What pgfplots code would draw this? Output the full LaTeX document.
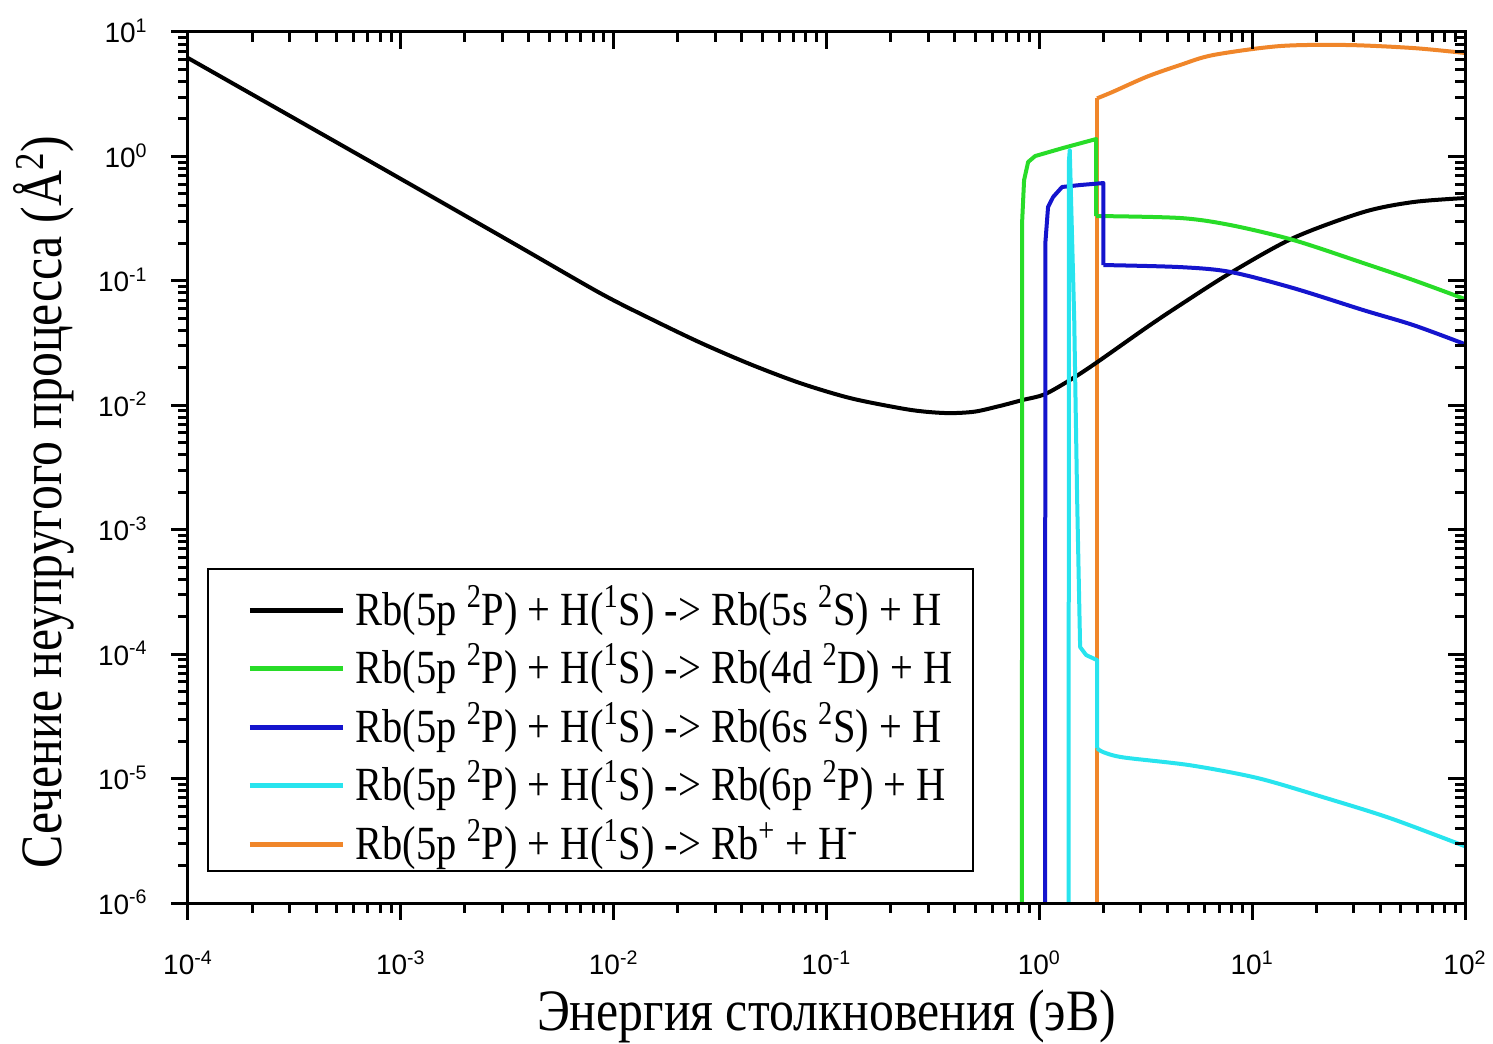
\documentclass[border=0pt]{standalone}
\usepackage{fontspec}
\setmainfont{Liberation Serif}[FakeStretch=0.85]
\newfontfamily\ticksf{Liberation Sans}
\usepackage{pgfplots}
\pgfplotsset{compat=1.18}
\definecolor{cgreen}{RGB}{40,220,40}
\definecolor{cblue}{RGB}{20,20,205}
\definecolor{ccyan}{RGB}{40,228,238}
\definecolor{corange}{RGB}{240,134,42}

\pgfplotstableread{
x y
1e-4 6.18
7.98e-4 0.822
3.37e-3 0.201
8.63e-3 0.0798
0.01483 0.0498
0.0255 0.0319
0.0438 0.0214
0.0752 0.01508
0.129 0.01143
0.222 0.00948
0.290 0.00889
0.381 0.00865
0.499 0.00890
0.655 0.00989
0.830 0.0110
1.064 0.0123
1.442 0.01655
1.870 0.0222
3.21 0.0425
4.59 0.0640
7.89 0.1156
15.6 0.221
33.3 0.357
57.2 0.430
100 0.463
}\tblack

\pgfplotstableread{
x y
0.828 1e-6
0.831 0.308
0.848 0.645
0.886 0.902
0.956 1.007
1.295 1.17
1.85 1.38
1.85 0.332
}\tgreenA
\pgfplotstableread{
x y
1.85 0.332
4.59 0.320
7.89 0.281
15.6 0.213
33.3 0.139
57.2 0.1014
100 0.0714
}\tgreenB

\pgfplotstableread{
x y
1.065 1e-6
1.067 0.2
1.099 0.392
1.161 0.472
1.279 0.568
1.555 0.589
2.0 0.611
2.0 0.134
}\tblueA
\pgfplotstableread{
x y
2.0 0.134
4.59 0.129
7.89 0.118
15.6 0.0875
33.3 0.0582
57.2 0.0441
100 0.0310
}\tblueB

\pgfplotstableread{
x y
1.374 1e-6
1.376 0.9
1.39 1.126
1.459 0.0484
1.506 1.73e-3
1.539 2.72e-4
1.555 1.14e-4
1.661 9.82e-5
1.87 8.95e-5
1.87 1.75e-5
}\tcyanA
\pgfplotstableread{
x y
1.87 1.75e-5
2.0 1.63e-5
2.48 1.48e-5
5.11 1.28e-5
10.6 1.01e-5
21.6 7.08e-6
44.6 4.8e-6
100 2.86e-6
}\tcyanB

\pgfplotstableread{
x y
1.868 1e-6
1.868 2.93
}\torangeA
\pgfplotstableread{
x y
1.868 2.93
2.22 3.31
3.20 4.37
4.59 5.43
6.56 6.53
13.5 7.71
27.9 7.86
57.2 7.43
100 6.78
}\torangeB

\begin{document}
\begin{tikzpicture}
\path (-94bp,-70.5bp) rectangle (652.5bp,451.5bp);
\begin{axis}[
  scale only axis, width=638.5bp, height=435.5bp,
  xmode=log, ymode=log,
  xmin=1e-4, xmax=1e2, ymin=1e-6, ymax=1e1,
  axis line style={line width=1.5bp},
  every tick/.style={black, line width=1.5bp},
  major tick length=8.5bp, minor tick length=5bp,
  xtick={1e-4,1e-3,1e-2,1e-1,1,10,100},
  ytick={1e-6,1e-5,1e-4,1e-3,1e-2,1e-1,1,10},
  tick align=outside, xtick pos=left, ytick pos=left,
  xticklabels={10\textsuperscript{-4},10\textsuperscript{-3},10\textsuperscript{-2},10\textsuperscript{-1},10\textsuperscript{0},10\textsuperscript{1},10\textsuperscript{2}},
  yticklabels={10\textsuperscript{-6},10\textsuperscript{-5},10\textsuperscript{-4},10\textsuperscript{-3},10\textsuperscript{-2},10\textsuperscript{-1},10\textsuperscript{0},10\textsuperscript{1}},
  tick label style={font=\ticksf\fontsize{14bp}{17bp}\selectfont, inner sep=0pt},
  xticklabel style={anchor=base, yshift=-27.5bp},
  yticklabel style={anchor=base east, xshift=-11.5bp, yshift=-5.5bp},
  xlabel={Энергия столкновения (эВ)},
  ylabel={Сечение неупругого процесса (\AA\textsuperscript{2})},
  label style={font=\fontsize{29.3bp}{34bp}\selectfont, inner sep=0pt},
  xlabel style={at={(axis description cs:0.5,-0.1458)}, anchor=base},
  ylabel style={at={(axis description cs:-0.0987,0.4604)}, anchor=base},
  legend cell align=left,
  legend style={at={(axis description cs:0.01488,0.0356)}, anchor=south west,
    draw=black, line width=1bp, inner xsep=10bp, inner ysep=6bp,
    font=\fontsize{23.8bp}{28bp}\selectfont,
    nodes={inner sep=0pt, text height=22bp, text depth=0bp},
    row sep=7.25bp, column sep=5bp},
  legend image code/.code={\path (0bp,-3.5bp); \draw[line width=2.5bp,#1] (10bp,-3.5bp) -- (56.5bp,-3.5bp);},
  every axis plot/.append style={line width=2bp, line join=round, forget plot},
]
\addplot[corange] table {\torangeA};
\addplot[corange, smooth, tension=0.5] table {\torangeB};
\addplot[black, smooth, tension=0.5] table {\tblack};
\addplot[cgreen] table {\tgreenA};
\addplot[cgreen, smooth, tension=0.5] table {\tgreenB};
\addplot[cblue] table {\tblueA};
\addplot[cblue, smooth, tension=0.5] table {\tblueB};
\addplot[ccyan] table {\tcyanA};
\addplot[ccyan, smooth, tension=0.5] table {\tcyanB};
\addlegendimage{black}
\addlegendentry{Rb(5p \textsuperscript{2}P) + H(\textsuperscript{1}S) -> Rb(5s \textsuperscript{2}S) + H}
\addlegendimage{cgreen}
\addlegendentry{Rb(5p \textsuperscript{2}P) + H(\textsuperscript{1}S) -> Rb(4d \textsuperscript{2}D) + H}
\addlegendimage{cblue}
\addlegendentry{Rb(5p \textsuperscript{2}P) + H(\textsuperscript{1}S) -> Rb(6s \textsuperscript{2}S) + H}
\addlegendimage{ccyan}
\addlegendentry{Rb(5p \textsuperscript{2}P) + H(\textsuperscript{1}S) -> Rb(6p \textsuperscript{2}P) + H}
\addlegendimage{corange}
\addlegendentry{Rb(5p \textsuperscript{2}P) + H(\textsuperscript{1}S) -> Rb\textsuperscript{+} + H\textsuperscript{-}}
\end{axis}
\begin{axis}[
  scale only axis, width=638.5bp, height=435.5bp,
  xmode=log, ymode=log,
  xmin=1e-4, xmax=1e2, ymin=1e-6, ymax=1e1,
  axis line style={line width=1.5bp},
  every tick/.style={black, line width=1.5bp},
  major tick length=8.5bp, minor tick length=5bp,
  xtick={1e-4,1e-3,1e-2,1e-1,1,10,100},
  ytick={1e-6,1e-5,1e-4,1e-3,1e-2,1e-1,1,10},
  tick align=inside, xtick pos=right, ytick pos=right,
  xticklabels={}, yticklabels={},
]
\addplot[draw=none] coordinates {(1,1)};
\end{axis}
\end{tikzpicture}
\end{document}
